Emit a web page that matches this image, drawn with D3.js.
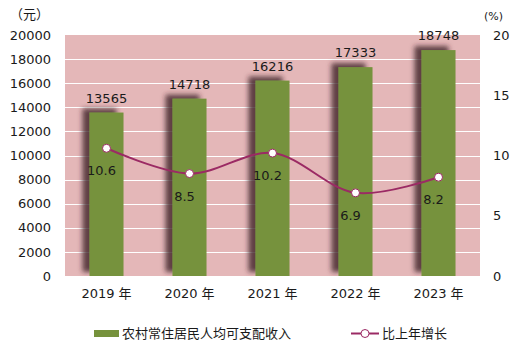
<!DOCTYPE html>
<html>
<head>
<meta charset="utf-8">
<script src="https://cdn.jsdelivr.net/npm/d3@7"></script>
<style>
  body { margin: 0; background: #fff; }
  svg text { font-family: "DejaVu Sans", "Noto Sans CJK SC", sans-serif; fill: #1a1a1a; }
</style>
</head>
<body>
<svg id="chart" width="526" height="362"></svg>
<script>
// 农村常住居民人均可支配收入及增速
const years = ["2019 年", "2020 年", "2021 年", "2022 年", "2023 年"];
const income = [13565, 14718, 16216, 17333, 18748];
const growth = [10.6, 8.5, 10.2, 6.9, 8.2];
const leftTicks = [0, 2000, 4000, 6000, 8000, 10000, 12000, 14000, 16000, 18000, 20000];
const rightTicks = [0, 5, 10, 15, 20];

const svg = d3.select("#chart");
const margin = { top: 35, right: 46, bottom: 86, left: 65 };
const width = 526, height = 362;

const x = d3.scaleBand().domain(years).range([margin.left, width - margin.right]).paddingInner(0.59).paddingOuter(0.295);
const y = d3.scaleLinear().domain([0, 20000]).range([height - margin.bottom, margin.top]);
const y2 = d3.scaleLinear().domain([0, 20]).range([height - margin.bottom, margin.top]);

// shadow filter for bars
const defs = svg.append("defs");
const f = defs.append("filter").attr("id", "shadow").attr("x", "-80%").attr("y", "-20%").attr("width", "200%").attr("height", "140%");
f.append("feOffset").attr("in", "SourceAlpha").attr("dx", -7).attr("dy", -4).attr("result", "off");
f.append("feGaussianBlur").attr("in", "off").attr("stdDeviation", 2.8).attr("result", "blur");
f.append("feFlood").attr("flood-color", "#3e2228").attr("flood-opacity", 0.8);
f.append("feComposite").attr("in2", "blur").attr("operator", "in").attr("result", "sh");
const fm = f.append("feMerge");
fm.append("feMergeNode").attr("in", "sh");
fm.append("feMergeNode").attr("in", "SourceGraphic");

const clip = defs.append("clipPath").attr("id", "plotclip");
clip.append("rect").attr("x", margin.left).attr("y", margin.top)
  .attr("width", width - margin.left - margin.right).attr("height", height - margin.top - margin.bottom);

// plot background
svg.append("rect")
  .attr("x", margin.left).attr("y", margin.top)
  .attr("width", width - margin.left - margin.right)
  .attr("height", height - margin.top - margin.bottom)
  .attr("fill", "#e4b7b8");

// grid lines
svg.append("g").selectAll("line")
  .data(leftTicks.slice(1, -1))
  .join("line")
  .attr("x1", margin.left - 2).attr("x2", width - margin.right)
  .attr("y1", d => Math.round(y(d)) + 0.5).attr("y2", d => Math.round(y(d)) + 0.5)
  .attr("stroke", "#fff").attr("stroke-width", 1.2);

// bars
svg.append("g").attr("clip-path", "url(#plotclip)")
  .selectAll("rect")
  .data(income)
  .join("rect")
  .attr("x", (d, i) => x(years[i]))
  .attr("y", d => y(d))
  .attr("width", x.bandwidth())
  .attr("height", d => y(0) - y(d))
  .attr("fill", "#76923c")
  .attr("filter", "url(#shadow)");

// bar labels
svg.append("g").selectAll("text")
  .data(income)
  .join("text")
  .attr("x", (d, i) => x(years[i]) + x.bandwidth() / 2)
  .attr("y", d => y(d) - 10)
  .attr("text-anchor", "middle")
  .attr("font-size", 13)
  .text(d => d);

// growth line
const cx = i => x(years[i]) + x.bandwidth() / 2;
const line = d3.line()
  .x((d, i) => cx(i))
  .y(d => y2(d))
  .curve(d3.curveCatmullRom.alpha(0.5));

svg.append("path")
  .datum(growth)
  .attr("d", line)
  .attr("fill", "none")
  .attr("stroke", "#9b2a64")
  .attr("stroke-width", 2);

svg.append("g").selectAll("circle")
  .data(growth)
  .join("circle")
  .attr("cx", (d, i) => cx(i))
  .attr("cy", d => y2(d))
  .attr("r", 4)
  .attr("fill", "#fff")
  .attr("stroke", "#9b2a64")
  .attr("stroke-width", 1);

svg.append("g").selectAll("text")
  .data(growth)
  .join("text")
  .attr("x", (d, i) => cx(i) - 5)
  .attr("y", d => y2(d) + 27)
  .attr("text-anchor", "middle")
  .attr("font-size", 13)
  .text(d => d.toFixed(1));

// left axis
const yAxis = svg.append("g")
  .attr("transform", `translate(${margin.left},0)`)
  .call(d3.axisLeft(y).tickValues(leftTicks).tickSize(0).tickPadding(14).tickFormat(d3.format("d")));
yAxis.select(".domain").remove();
yAxis.selectAll("text").attr("font-size", 13).attr("fill", "#1a1a1a");

// right axis
const y2Axis = svg.append("g")
  .attr("transform", `translate(${width - margin.right},0)`)
  .call(d3.axisRight(y2).tickValues(rightTicks).tickSize(0).tickPadding(13));
y2Axis.select(".domain").remove();
y2Axis.selectAll("text").attr("font-size", 13).attr("fill", "#1a1a1a");
// small white ticks on right
svg.append("g").selectAll("line")
  .data(rightTicks.slice(1, -1))
  .join("line")
  .attr("x1", width - margin.right).attr("x2", width - margin.right + 4)
  .attr("y1", d => Math.round(y2(d)) + 0.5).attr("y2", d => Math.round(y2(d)) + 0.5)
  .attr("stroke", "#fff").attr("stroke-width", 1.5);

// x axis
const xAxis = svg.append("g")
  .attr("transform", `translate(0,${height - margin.bottom})`)
  .call(d3.axisBottom(x).tickSize(0).tickPadding(13));
xAxis.select(".domain").remove();
xAxis.selectAll("text").attr("font-size", 13).attr("fill", "#1a1a1a");

// unit labels
svg.append("text").attr("x", 10).attr("y", 19).attr("font-size", 13).text("（元）");
svg.append("text").attr("x", 484).attr("y", 20).attr("font-size", 11).text("(%)");

// legend
const lg = svg.append("g");
lg.append("rect").attr("x", 94).attr("y", 330).attr("width", 25).attr("height", 7).attr("fill", "#76923c");
lg.append("text").attr("x", 122).attr("y", 338).attr("font-size", 13).text("农村常住居民人均可支配收入");
lg.append("line").attr("x1", 351).attr("x2", 379).attr("y1", 333.5).attr("y2", 333.5)
  .attr("stroke", "#9b2a64").attr("stroke-width", 2);
lg.append("circle").attr("cx", 365).attr("cy", 333.5).attr("r", 4)
  .attr("fill", "#fff").attr("stroke", "#9b2a64").attr("stroke-width", 1);
lg.append("text").attr("x", 382).attr("y", 338).attr("font-size", 13).text("比上年增长");
</script>
</body>
</html>
